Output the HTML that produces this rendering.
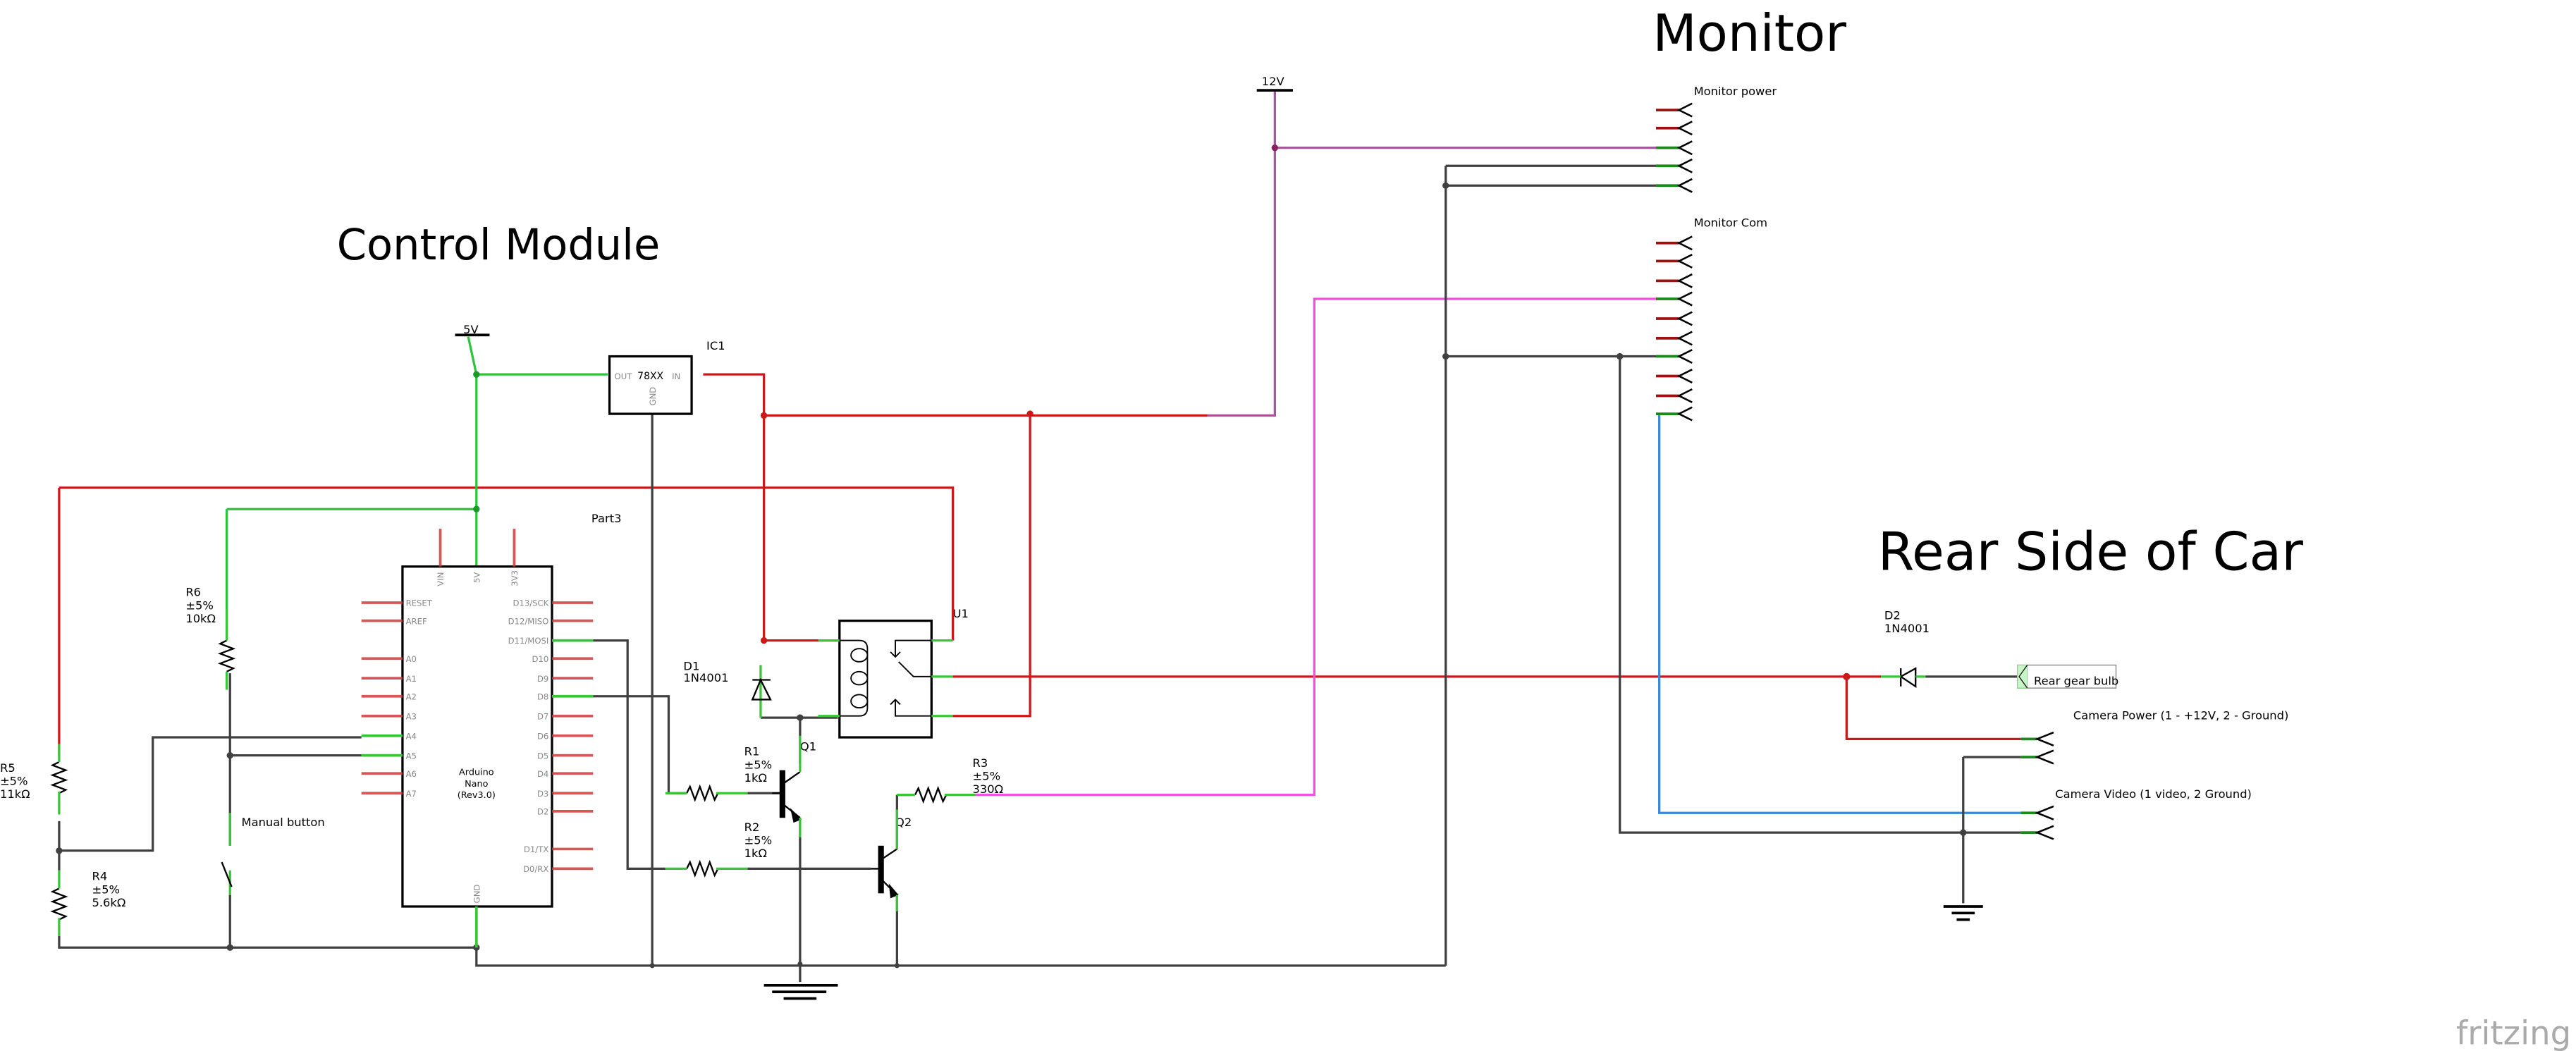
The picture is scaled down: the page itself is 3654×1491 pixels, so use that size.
<!DOCTYPE html>
<html><head><meta charset="utf-8"><style>
html,body{margin:0;padding:0;background:#fff;width:3654px;height:1491px;overflow:hidden}
svg{display:block}
text{font-family:"DejaVu Sans","Liberation Sans",sans-serif}
</style></head><body>
<svg width="3654" height="1491" viewBox="0 0 1568 640" preserveAspectRatio="none" xmlns="http://www.w3.org/2000/svg">
<g fill="#000">
<text x="1006" y="31" font-size="31">Monitor</text>
<text x="205" y="158" font-size="26">Control Module</text>
<text x="1143" y="347" font-size="32">Rear Side of Car</text>
<text x="1031" y="58" font-size="7">Monitor power</text>
<text x="1031" y="138" font-size="7">Monitor Com</text>
<text x="1262" y="438" font-size="7">Camera Power (1 - +12V, 2 - Ground)</text>
<text x="1251" y="486" font-size="7">Camera Video (1 video, 2 Ground)</text>
<text x="768" y="52" font-size="7">12V</text>
<text x="282" y="203" font-size="7">5V</text>
<text x="430" y="213" font-size="7">IC1</text>
<text x="360" y="318" font-size="7">Part3</text>
<text x="580" y="376" font-size="7">U1</text>
<text x="416" y="408" font-size="7">D1</text><text x="416" y="415" font-size="7">1N4001</text>
<text x="1147" y="377" font-size="7">D2</text><text x="1147" y="385" font-size="7">1N4001</text>
<text x="453" y="460" font-size="7">R1</text><text x="453" y="468" font-size="7">±5%</text><text x="453" y="476" font-size="7">1kΩ</text>
<text x="453" y="506" font-size="7">R2</text><text x="453" y="514" font-size="7">±5%</text><text x="453" y="522" font-size="7">1kΩ</text>
<text x="592" y="467" font-size="7">R3</text><text x="592" y="475" font-size="7">±5%</text><text x="592" y="483" font-size="7">330Ω</text>
<text x="487" y="457" font-size="7">Q1</text>
<text x="545" y="503" font-size="7">Q2</text>
<text x="113" y="363" font-size="7">R6</text><text x="113" y="371" font-size="7">±5%</text><text x="113" y="379" font-size="7">10kΩ</text>
<text x="0" y="470" font-size="7">R5</text><text x="0" y="478" font-size="7">±5%</text><text x="0" y="486" font-size="7">11kΩ</text>
<text x="56" y="536" font-size="7">R4</text><text x="56" y="544" font-size="7">±5%</text><text x="56" y="552" font-size="7">5.6kΩ</text>
<text x="147" y="503" font-size="7">Manual button</text>
<text x="290" y="472" font-size="5.5" text-anchor="middle">Arduino</text>
<text x="290" y="479" font-size="5.5" text-anchor="middle">Nano</text>
<text x="290" y="486" font-size="5.5" text-anchor="middle">(Rev3.0)</text>
<text x="388" y="231" font-size="6">78XX</text>
</g>
<text x="1495" y="636" font-size="20" fill="#aaa">fritzing</text>
<g fill="#888" font-size="5">
<text x="374" y="231">OUT</text><text x="409" y="231">IN</text>
<text transform="translate(399,247) rotate(-90)">GND</text>
<text x="247" y="369">RESET</text><text x="247" y="380">AREF</text>
<text x="247" y="403">A0</text><text x="247" y="415">A1</text><text x="247" y="426">A2</text><text x="247" y="438">A3</text><text x="247" y="450">A4</text><text x="247" y="462">A5</text><text x="247" y="473">A6</text><text x="247" y="485">A7</text>
<g text-anchor="end"><text x="334" y="369">D13/SCK</text><text x="334" y="380">D12/MISO</text><text x="334" y="392">D11/MOSI</text><text x="334" y="403">D10</text><text x="334" y="415">D9</text><text x="334" y="426">D8</text><text x="334" y="438">D7</text><text x="334" y="450">D6</text><text x="334" y="462">D5</text><text x="334" y="473">D4</text><text x="334" y="485">D3</text><text x="334" y="496">D2</text><text x="334" y="519">D1/TX</text><text x="334" y="531">D0/RX</text></g>
<text transform="translate(270,357) rotate(-90)">VIN</text><text transform="translate(292,355) rotate(-90)">5V</text><text transform="translate(315,357) rotate(-90)">3V3</text>
<text transform="translate(292,550) rotate(-90)">GND</text>
</g>
<g fill="none" stroke-width="1.4">
<g stroke="#cc1818">
<path d="M428,228 H465 V390 H510"/>
<path d="M465,253 H735"/>
<path d="M627,252 V436 H580"/>
<path d="M36,297 H580 V390"/>
<path d="M36,297 V460"/>
<path d="M580,412 H1145"/>
<path d="M1124,412 V450 H1230"/>
</g>
<g stroke="#2bc43b">
<path d="M285,205 L290,228 V345"/>
<path d="M290,228 H370"/>
<path d="M138,310 H290"/>
<path d="M138,310 V390"/>
</g>
<path stroke="#a855a0" d="M735,253 H776 V55 M776,90 H1010"/>
<path stroke="#f050e0" d="M594,484 H800 V182 H1010"/>
<path stroke="#3a88d8" d="M1010,252 V495 H1230"/>
<g stroke="#404040">
<path d="M880,101 H1010 M880,113 H1010 M880,101 V588 M880,217 H1010 M986,217 V507 H1230"/>
<path d="M1195,461 H1230 M1195,461 V550"/>
<path d="M1172,412 H1228"/>
<path d="M361,390 H382 V529 H405 M455,529 H530"/>
<path d="M361,424 H407 V483 H418 M455,483 H475"/>
<path d="M397,252 V588 M290,552 V588 H880"/>
<path d="M36,500 V530 M36,570 V577 H290"/>
<path d="M36,518 H93 V449 H220 M140,410 V515 M140,545 V577 M140,460 H220"/>
<path d="M463,437 H510 M487,437 V465 M487,500 V598 M546,484 H555 M546,484 V517 M546,545 V588"/>
</g>
</g>
<g>
<circle cx="776" cy="90" r="2" fill="#8a2060"/>
<circle cx="465" cy="253" r="2" fill="#cc1818"/><circle cx="627" cy="252" r="2" fill="#cc1818"/><circle cx="465" cy="390" r="2" fill="#cc1818"/><circle cx="1124" cy="412" r="2.2" fill="#cc1818"/>
<circle cx="290" cy="228" r="2" fill="#1a9a2a"/><circle cx="290" cy="310" r="2" fill="#1a9a2a"/>
<g fill="#404040"><circle cx="880" cy="113" r="2"/><circle cx="880" cy="217" r="2"/><circle cx="986" cy="217" r="2"/><circle cx="1195" cy="507" r="2"/><circle cx="487" cy="437" r="2"/><circle cx="36" cy="518" r="2"/><circle cx="140" cy="460" r="2"/><circle cx="140" cy="577" r="2"/><circle cx="290" cy="577" r="2"/><circle cx="397" cy="588" r="1.5"/><circle cx="487" cy="587" r="1.5"/><circle cx="546" cy="588" r="1.5"/></g>
</g>
<g stroke="#000" stroke-width="1.6" fill="none">
<path d="M765,55 H787 M277,204 H298"/>
<path d="M465,600 H510 M470,604 H503 M477,608 H497"/>
<path d="M1183,552 H1207 M1188,556 H1202 M1191,560 H1199"/>
</g>
<rect x="371" y="217" width="50" height="35" fill="none" stroke="#000" stroke-width="1.4"/>
<rect x="245" y="345" width="91" height="207" fill="none" stroke="#000" stroke-width="1.4"/>
<g stroke="#d03a3a" stroke-width="1.6" opacity="0.85">
<path d="M220,367 H245 M220,378 H245 M220,401 H245 M220,413 H245 M220,424 H245 M220,436 H245 M220,471 H245 M220,483 H245"/>
<path d="M336,367 H361 M336,378 H361 M336,401 H361 M336,413 H361 M336,436 H361 M336,448 H361 M336,460 H361 M336,471 H361 M336,483 H361 M336,494 H361 M336,517 H361 M336,529 H361"/>
<path d="M268,322 V345 M313,322 V345"/>
</g>
<g stroke="#3ac43a" stroke-width="1.6">
<path d="M220,448 H245 M220,460 H245 M336,390 H361 M336,424 H361 M290,552 V577"/>
</g>
<g stroke="#000" stroke-width="1" fill="none">
<path d="M418,483 l2,-4 l3,8 l3,-8 l3,8 l3,-8 l3,8 l2,-4"/>
<path d="M418,529 l2,-4 l3,8 l3,-8 l3,8 l3,-8 l3,8 l2,-4"/>
<path d="M557,484 l2,-4 l3,8 l3,-8 l3,8 l3,-8 l3,8 l2,-4"/>
<path d="M138,390 l-4,2 l8,3 l-8,3 l8,3 l-8,3 l8,3 l-4,2"/>
<path d="M36,464 l-4,2 l8,3 l-8,3 l8,3 l-8,3 l8,3 l-4,2"/>
<path d="M36,541 l-4,2 l8,3 l-8,3 l8,3 l-8,3 l8,3 l-4,2"/>
</g>
<g stroke="#3ac43a" stroke-width="1.4">
<path d="M405,483 H418 M436,483 H455 M405,529 H418 M436,529 H455 M546,484 H557 M575,484 H594"/>
<path d="M138,371 V390 M138,409 V420 M36,453 V464 M36,482 V496 M36,530 V541 M36,559 V570"/>
<path d="M140,495 V515 M140,530 V545"/>
</g>
<path d="M135,525 L141,540" stroke="#000" stroke-width="1"/>
<g stroke="#000" stroke-width="1" fill="none">
<path d="M470,483 H475 M477,477 L487,470 M477,490 L487,498"/>
<path d="M530,529 H535 M537,523 L546,517 M537,536 L546,545"/>
</g>
<rect x="474.5" y="469" width="3.5" height="29" fill="#000"/>
<rect x="534.5" y="515" width="3.5" height="29" fill="#000"/>
<path d="M481,492 L488,499 L483,501 Z M541,538 L547,545 L542,547 Z" fill="#000"/>
<g stroke="#3ac43a" stroke-width="1.4"><path d="M487,448 V470 M487,498 V510 M546,493 V517 M546,545 V555 M463,405 V437"/></g>
<g stroke="#000" stroke-width="1" fill="none"><path d="M458,414 H469 M463,414 L458,426 H469 Z"/></g>
<g stroke="#000" stroke-width="1" fill="none"><path d="M1157,407 V418 M1157,412 L1166,407 V418 Z"/></g>
<path d="M1145,412 H1157 M1166,412 H1172" stroke="#3ac43a" stroke-width="1.4"/>
<rect x="1228" y="405" width="60" height="14" fill="#fff" stroke="#888" stroke-width="0.6"/>
<rect x="1228" y="405" width="6" height="14" fill="#c8f5c8" stroke="#8d8" stroke-width="0.5"/>
<path d="M1234,405 L1229,412 L1234,419" stroke="#000" stroke-width="0.5" fill="none"/>
<text x="1238" y="417" font-size="7" fill="#000">Rear gear bulb</text>
<rect x="511" y="378" width="56" height="71" fill="none" stroke="#000" stroke-width="1.4"/>
<g stroke="#000" stroke-width="0.8" fill="none">
<path d="M511,390 H523 Q528,390 528,395 V431 Q528,436 523,436 H511"/>
<ellipse cx="523" cy="399" rx="5" ry="4"/><ellipse cx="523" cy="413" rx="5" ry="4"/><ellipse cx="523" cy="427" rx="5" ry="4"/>
<path d="M567,390 H545 V400 M542,397 L545,400 L548,397"/>
<path d="M567,412 H556 L547,403"/>
<path d="M567,436 H545 V426 M542,429 L545,426 L548,429"/>
</g>
<g stroke="#3ac43a" stroke-width="1.4"><path d="M498,390 H511 M498,436 H511 M567,390 H580 M567,412 H580 M567,436 H580"/></g>
<g stroke-width="1.6">
<g stroke="#a01010"><path d="M1008,67 H1022 M1008,78 H1022 M1008,148 H1022 M1008,159 H1022 M1008,171 H1022 M1008,194 H1022 M1008,206 H1022 M1008,229 H1022 M1008,241 H1022"/></g>
<g stroke="#1a8a1a"><path d="M1008,90 H1022 M1008,101 H1022 M1008,113 H1022 M1008,182 H1022 M1008,217 H1022 M1008,252 H1022 M1230,450 H1240 M1230,461 H1240 M1230,495 H1240 M1230,507 H1240"/></g>
</g>
<g stroke="#000" stroke-width="1.1" fill="none">
<path d="M1030,63 L1022,67 L1030,71 M1030,74 L1022,78 L1030,82 M1030,86 L1022,90 L1030,94 M1030,97 L1022,101 L1030,105 M1030,109 L1022,113 L1030,117"/>
<path d="M1030,144 L1022,148 L1030,152 M1030,155 L1022,159 L1030,163 M1030,167 L1022,171 L1030,175 M1030,178 L1022,182 L1030,186 M1030,190 L1022,194 L1030,198 M1030,202 L1022,206 L1030,210 M1030,213 L1022,217 L1030,221 M1030,225 L1022,229 L1030,233 M1030,237 L1022,241 L1030,245 M1030,248 L1022,252 L1030,256"/>
<path d="M1250,446 L1240,450 L1250,454 M1250,457 L1240,461 L1250,465 M1250,491 L1240,495 L1250,499 M1250,503 L1240,507 L1250,511"/>
</g>
</svg>
</body></html>
